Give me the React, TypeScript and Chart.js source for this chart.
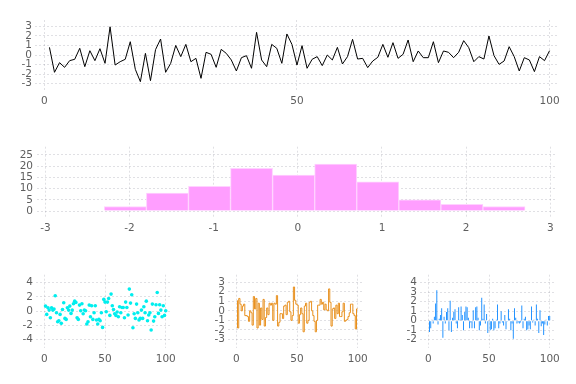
import React, { useEffect, useRef } from "react";
import { Chart, registerables } from "chart.js";
Chart.register(...registerables);

// ---------- data ----------
const lineY = [
  0.8, -1.81, -0.8, -1.29, -0.59, -0.45, 0.7, -1.22, 0.45, -0.59,
  0.66, -0.87, 2.95, -1.05, -0.7, -0.45, 1.39, -1.5, -2.79, 0.17,
  -2.68, 0.56, 1.67, -1.81, -0.87, 1.0, -0.17, 1.11, -0.7, -0.35,
  -2.44, 0.28, 0.07, -1.29, 0.59, 0.17, -0.52, -1.67, -0.28, -0.07,
  -1.39, 2.37, -0.52, -1.22, 1.11, 0.7, -0.87, 2.2, 1.11, -1.05,
  0.98, -1.39, -0.45, -0.17, -1.11, 0, -0.52, 0.8, -0.94, -0.17,
  1.64, -0.42, -0.35, -1.32, -0.63, -0.24, 1.11, -0.24, 1.29, -0.35,
  0.07, 1.57, -0.7, 0.42, -0.28, -0.28, 1.39, -0.8, 0.42, 0.28,
  -0.28, 0.28, 1.5, 0.77, -0.7, -0.17, -0.42, 1.99, -0.07, -0.98,
  -0.63, 0.87, -0.17, -1.67, -0.28, -0.52, -1.74, -0.17, -0.59, 0.45,
];

const histEdges = [-2.3, -1.8, -1.3, -0.8, -0.3, 0.2, 0.7, 1.2, 1.7, 2.2, 2.7];
const histCounts = [2, 8, 11, 19, 16, 21, 13, 5, 3, 2];

const scatterY = [
  0.7, -0.47, 0.47, 0.14, -0.94, 0.47, 0.14, 0.28, 2.15, -0.23,
  -1.5, -1.36, -0.47, -1.73, 0.23, 1.17, -1.03, -1.17, 0.47, 0.14,
  0.7, -0.33, 0.14, 1.03, 1.4, 1.22, -0.94, -1.17, 0.84, 0.05,
  1.03, -0.37, 0.14, 0.05, -1.83, -1.5, 0.84, -0.8, 0.75, -1.17,
  -0.23, 0.75, -1.26, -1.83, -1.17, -1.36, -0.23, -2.3, 1.64, 1.26,
  -0.1, 1.26, 1.78, -0.61, 2.39, 0.75, 0.23, -0.37, -0.61, -0.14,
  -0.8, 0.61, -0.23, 0.51, 0.51, -0.94, 1.26, 0.51, -0.56, 3.09,
  1.12, 2.29, -2.34, -0.37, -1.03, 0.98, -0.23, -1.26, -1.03, 0.14,
  -1.03, 0.61, -0.23, 1.4, -1.36, -0.56, -0.23, -2.67, 0.98, -1.41,
  -0.8, 0.89, 2.62, -0.33, 0.89, 0.14, -0.8, 0.75, -0.61, 0.05,
];

const stepY = [
  1.1, -1.8, 1.3, 0.7, 0, 0.5, 0.7, -0.5, -0.5, -0.6,
  -1.1, 0, -0.2, -1.5, 1.5, 0.2, 1.3, -1.8, 0.8, -1.5,
  0.3, -0.9, 1.2, -1.6, -0.7, 0.3, -0.4, 0.8, 0.6, 0.8,
  -1.0, 0.8, 0.7, 1.6, -1.6, -1.2, -0.3, -0.3, -0.8, 0.5,
  0.6, -0.4, 0.9, 1.0, -0.1, -1.0, -0.5, 2.5, 1.1, 0.7,
  0.6, -1.3, -0.4, 0.3, -0.3, -2.2, 0.5, 0.8, -1.3, -1.0,
  0.9, 1.0, 0.0, -0.5, -1.1, -2.2, -1.0, 0.6, 0.6, 1.2,
  0.7, 0.9, 0.1, 0.7, 0.1, 0.0, 2.3, 0.9, -1.6, 0.2,
  0.3, -0.8, 0.6, -0.3, 0.8, -0.6, -0.6, -0.1, 0.8, -1.1,
  -1.0, -0.9, -0.6, -0.2, 0.7, 0.7, -0.3, -0.5, -1.9, 0.2,
];

const barY = [
  -1.2, -0.8, 0.1, -0.3, 0.4, 1.8, 3.2, -0.4, 0.2, 0.6,
  1.3, -1.8, 0.4, -0.3, 0.9, 1.3, -1.0, 2.1, -1.2, 0.3,
  0.9, 1.2, -0.3, -0.8, 1.4, 0.1, 1.5, 0.6, -1.0, 0.9,
  1.5, 1.4, 0.3, -0.8, -0.2, -0.8, 1.1, -0.8, 1.4, 1.5,
  0.3, -1.0, -0.5, 2.4, 0.2, 1.7, -0.3, 0.7, -1.3, -0.1,
  -1.0, -0.9, 0.2, -1.0, -0.8, 0.1, 1.7, -0.8, -0.3, 1.0,
  -0.2, -0.5, 0.6, -0.9, -0.1, 1.2, 0.2, -1.0, -0.3, -1.9,
  1.3, 0.3, -0.3, -0.2, -0.3, -0.2, 1.6, -0.8, 0.2, 0.4,
  -1.0, -0.9, -0.5, -0.9, 1.5, -0.2, 0.1, -0.5, 1.7, 0.2,
  -1.3, 1.1, -0.6, -0.3, -1.5, -0.4, 0.1, -0.5, 0.5, 0.5,
];

const topXTicks = [0, 50, 100];
const topYTicks = [-3, -2, -1, 0, 1, 2, 3];
const histXTicks = [-3, -2, -1, 0, 1, 2, 3];
const histYTicks = [0, 5, 10, 15, 20, 25];
const smallXTicks = [0, 50, 100];
const scatterYTicks = [-4, -2, 0, 2, 4];
const stepYTicks = [-3, -2, -1, 0, 1, 2, 3];
const barYTicks = [-2, -1, 0, 1, 2, 3, 4];

// ---------- styling helpers ----------
const FONT = { family: "DejaVu Sans", size: 10.5 };
const TEXT = "#5e5e5e";
const GRID = "rgba(60,60,90,0.16)";

function axis(min: number, max: number, ticks: number[], prop: string, val: number, pad: number) {
  return {
    type: "linear",
    min,
    max,
    offset: false,
    grid: { color: GRID, lineWidth: 1, drawTicks: false, offset: false },
    border: { display: false, dash: [2, 2] },
    ticks: {
      font: FONT,
      color: TEXT,
      padding: pad,
      autoSkip: false,
      maxRotation: 0,
      minRotation: 0,
      callback: (v: number) => String(v),
    },
    afterBuildTicks: (s: any) => {
      s.ticks = ticks.map((v) => ({ value: v }));
    },
    afterFit: (s: any) => {
      s[prop] = val;
    },
  };
}

function baseOptions(padTop: number, padRight: number, x: any, y: any) {
  return {
    animation: false,
    responsive: false,
    maintainAspectRatio: false,
    events: [],
    plugins: { legend: { display: false }, tooltip: { enabled: false } },
    layout: { padding: { left: 0, top: padTop, right: padRight, bottom: 0 } },
    scales: { x, y },
  };
}

const idx = (arr: number[]) => arr.map((y, i) => ({ x: i + 1, y }));

const configs: any[] = [
  // top line
  {
    left: 0, top: 0, w: 576, h: 128,
    cfg: {
      type: "line",
      data: {
        datasets: [{ data: idx(lineY), borderColor: "#000000", borderWidth: 1, pointRadius: 0, tension: 0 }],
      },
      options: baseOptions(20, 19, axis(-1.86, 101.47, topXTicks, "height", 38, 5), axis(-3.66, 3.66, topYTicks, "width", 35, 3)),
    },
  },
  // histogram
  {
    left: 0, top: 128, w: 576, h: 128,
    cfg: {
      type: "bar",
      data: {
        datasets: [{
          data: histCounts.map((c, i) => ({ x: (histEdges[i] + histEdges[i + 1]) / 2, y: c })),
          backgroundColor: "#ff9eff",
          borderColor: "#ffd2ff",
          borderWidth: 1,
          barPercentage: 1,
          categoryPercentage: 1,
        }],
      },
      options: baseOptions(18.7, 19, axis(-3.1, 3.08, histXTicks, "height", 38.7, 5), axis(-2.8, 28.7, histYTicks, "width", 37, 4)),
    },
  },
  // scatter
  {
    left: 0, top: 256, w: 192, h: 128,
    cfg: {
      type: "scatter",
      data: {
        datasets: [{ data: idx(scatterY), backgroundColor: "#00eeee", borderWidth: 0, pointRadius: 1.8 }],
      },
      options: baseOptions(18.7, 21.3, axis(-6.84, 104.1, smallXTicks, "height", 35.7, 5), axis(-5.24, 5.12, scatterYTicks, "width", 36, 3)),
    },
  },
  // steps
  {
    left: 192, top: 256, w: 192, h: 128,
    cfg: {
      type: "line",
      data: {
        datasets: [{ data: idx(stepY), borderColor: "#e8901e", borderWidth: 1, pointRadius: 0, stepped: "after" }],
      },
      options: baseOptions(18.7, 21.3, axis(-6.84, 104.1, smallXTicks, "height", 35.7, 5), axis(-3.93, 3.79, stepYTicks, "width", 36, 3)),
    },
  },
  // bars
  {
    left: 384, top: 256, w: 192, h: 128,
    cfg: {
      type: "bar",
      data: {
        datasets: [{ data: idx(barY), backgroundColor: "#1e90ff", borderWidth: 0, barPercentage: 0.8, categoryPercentage: 1 }],
      },
      options: baseOptions(18.7, 21.3, axis(-6.84, 104.1, smallXTicks, "height", 35.7, 5), axis(-2.91, 4.84, barYTicks, "width", 36, 3)),
    },
  },
];

function Panel({ left, top, w, h, cfg }: any) {
  const ref = useRef<HTMLCanvasElement>(null);
  useEffect(() => {
    if (!ref.current) return;
    const chart = new Chart(ref.current, cfg);
    return () => chart.destroy();
  }, []);
  return (
    <canvas
      ref={ref}
      width={w}
      height={h}
      style={{ position: "absolute", left, top, width: w, height: h }}
    />
  );
}

export default function App() {
  return (
    <div style={{ position: "absolute", left: 0, top: 0, width: 576, height: 384, background: "#ffffff" }}>
      {configs.map((c, i) => (
        <Panel key={i} {...c} />
      ))}
    </div>
  );
}
